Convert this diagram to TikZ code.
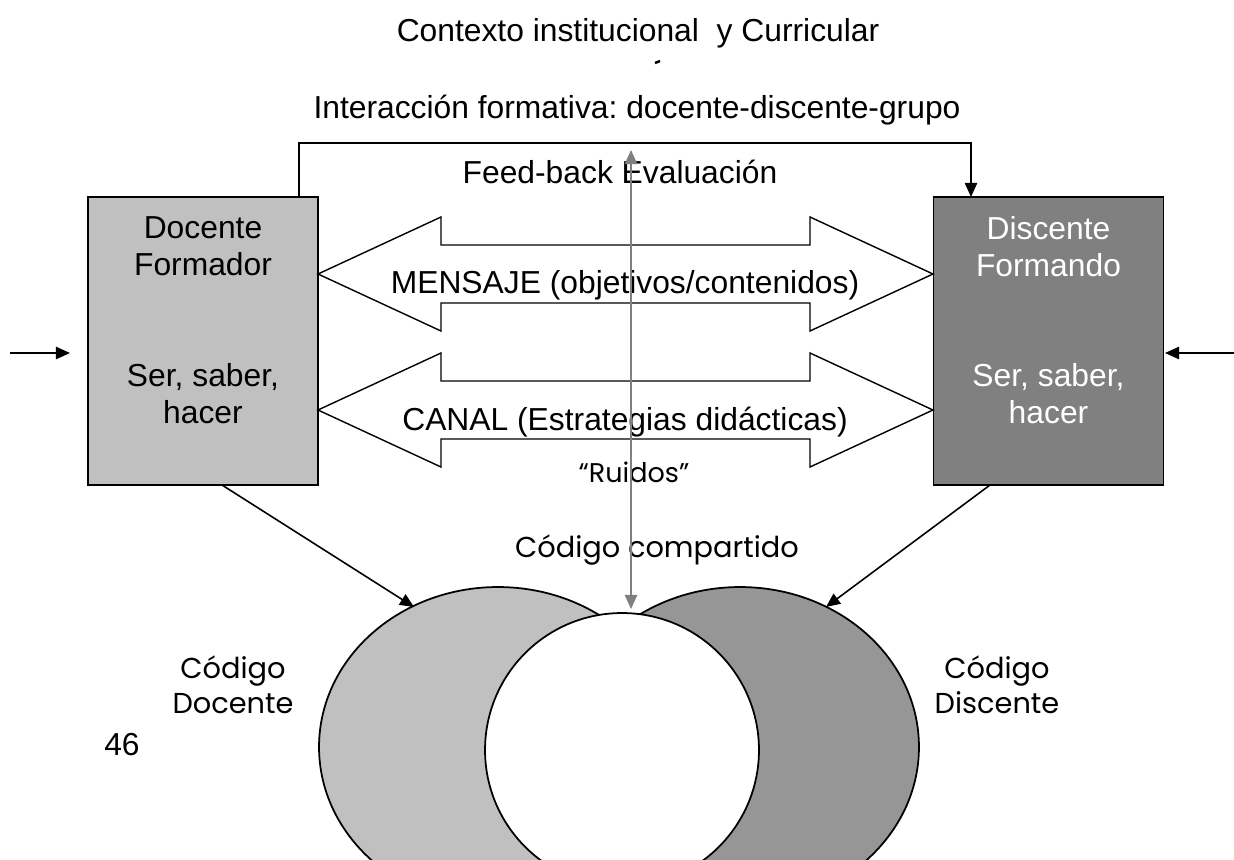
\documentclass[tikz,border=0pt]{standalone}
\usepackage{fontspec}
\setmainfont{Liberation Sans}
\newfontfamily\gothic{Poppins}
\usetikzlibrary{arrows.meta}
\definecolor{gLight}{RGB}{192,192,192}
\definecolor{gDark}{RGB}{128,128,128}
\definecolor{gMid}{RGB}{150,150,150}
\definecolor{gLine}{RGB}{128,128,128}
\frenchspacing
\begin{document}
\begin{tikzpicture}[x=0.02cm,y=-0.02cm,
  big/.style={font=\fontsize{18.1}{21}\selectfont, inner sep=0pt, align=center},
  goth/.style={font=\gothic\fontsize{16.4}{20}\selectfont, inner sep=0pt, align=center},
  conn/.style={line width=0.9pt, -{Triangle[length=8pt,width=7pt]}},
  boxstyle/.style={draw, line width=1pt, minimum width=4.6cm, minimum height=5.76cm, inner sep=0pt},
  blockarrow/.style={draw, line width=0.8pt, fill=white},
  grayarrow/.style={draw=gLine, line width=0.9pt, {Triangle[length=8pt,width=7pt]}-{Triangle[length=8pt,width=7pt]}, gLine}
]
\useasboundingbox (0,0) rectangle (1234,859);
\fill[white] (0,0) rectangle (1234,859);

% titles
\node[big] (ctx) at (638,33) {Contexto institucional\ \ y Curricular};
\draw[line width=1.4pt] (655,63) -- (660,61);
\node[big] (inter) at (637,110) {Interacción formativa: docente-discente-grupo};

% boxes
\node[boxstyle, fill=gLight] (doc) at (203,341) {};
\node[boxstyle, fill=gDark] (dis) at (1048.5,341) {};
\node[big] (docT) at (203,246.5) {Docente\\Formador};
\node[big] (docB) at (203,393.5) {Ser, saber,\\hacer};
\node[big, text=white] (disT) at (1048.5,246.5) {Discente\\Formando};
\node[big, text=white] (disB) at (1048.5,393.5) {Ser, saber,\\hacer};

% top feedback connector
\coordinate (fbA) at (299,197);
\coordinate (fbB) at (971,197);
\draw[conn] (fbA) -- (299,143) -- (971,143) -- (fbB);

% side inputs
\coordinate (inL) at (10,353);
\coordinate (inLt) at (70,353);
\coordinate (inR) at (1234,353);
\coordinate (inRt) at (1165,353);
\draw[conn] (inL) -- (inLt);
\draw[conn] (inR) -- (inRt);

% block double arrows
\draw[blockarrow] (318,274) -- (441,217) -- (441,245) -- (810,245) -- (810,217) -- (933,274)
  -- (810,331) -- (810,303) -- (441,303) -- (441,331) -- cycle;
\draw[blockarrow] (318,410) -- (441,353) -- (441,381) -- (810,381) -- (810,353) -- (933,410)
  -- (810,467) -- (810,439) -- (441,439) -- (441,467) -- cycle;
\node[big] (msg) at (625,285) {MENSAJE (objetivos/contenidos)};
\node[big] (can) at (625,422) {CANAL (Estrategias didácticas)};

\node[big] (fb) at (620,172) {Feed-back Evaluación};

% ellipses
\begin{scope}
\clip (0,0) rectangle (1234,859);
\draw[line width=1pt, fill=gLight] (498,747) ellipse [x radius=3.58cm, y radius=3.2cm];
\draw[line width=1pt, fill=gMid] (740,747) ellipse [x radius=3.58cm, y radius=3.2cm];
\draw[line width=1pt, fill=white] (622,750) circle [radius=2.74cm];
\end{scope}

% connectors to codes
\coordinate (dA) at (222,485);
\coordinate (eL) at (414,607);
\coordinate (dB) at (990,485);
\coordinate (eR) at (826,607);
\draw[conn] (dA) -- (eL);
\draw[conn] (dB) -- (eR);

% labels
\node[goth, font=\gothic\fontsize{15.4}{20}\selectfont] (ruid) at (634,472) {“Ruidos”};
\node[goth] (comp) at (657,550) {Código compartido};
\node[goth] (cdoc) at (233,684.5) {Código\\Docente};
\node[goth] (cdis) at (997,684.5) {Código\\Discente};
\node[big] (num) at (122,745) {46};

% gray feedback arrow
\coordinate (gT) at (631,150);
\coordinate (gB) at (631,609);
\draw[grayarrow] (gT) -- (gB);
\end{tikzpicture}
\end{document}
